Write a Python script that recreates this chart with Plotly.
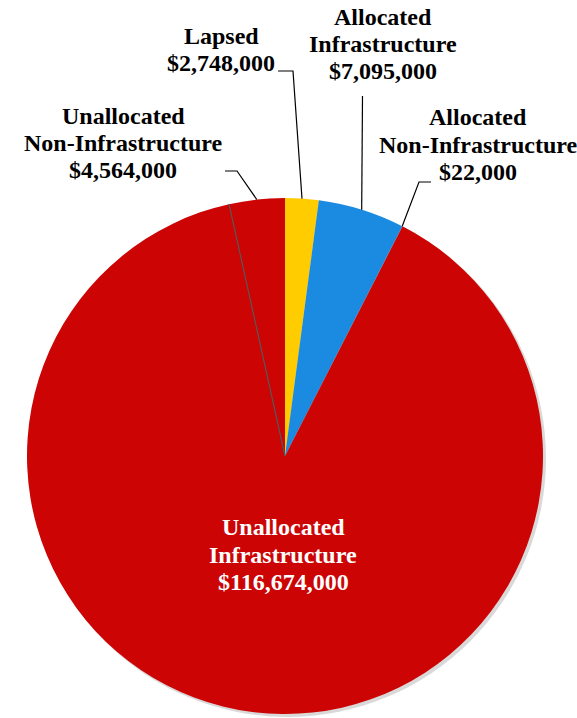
import math
import plotly.graph_objects as go

# ---- data ----
categories = ["Lapsed", "Allocated Infrastructure", "Allocated Non-Infrastructure",
              "Unallocated Infrastructure", "Unallocated Non-Infrastructure"]
label_lines = [["Lapsed"], ["Allocated", "Infrastructure"], ["Allocated", "Non-Infrastructure"],
               ["Unallocated", "Infrastructure"], ["Unallocated", "Non-Infrastructure"]]
values = [2748000, 7095000, 22000, 116674000, 4564000]
colors = ["#FFCC00", "#1A8BE0", "#1A8BE0", "#CC0404", "#CC0404"]

W, H = 577, 718
CX, CY, R = 285, 456, 258

fig = go.Figure()

# drop shadow behind the pie
fig.add_shape(type="circle", xref="x", yref="y", x0=CX - R + 2, x1=CX + R + 3,
              y0=CY - R + 2, y1=CY + R + 3, fillcolor="rgba(0,0,0,0.15)",
              line=dict(width=0), layer="below")

fig.add_trace(go.Pie(
    labels=categories, values=values, sort=False, direction="clockwise", rotation=0,
    marker=dict(colors=colors, line=dict(width=0)),
    textinfo="none", hoverinfo="label+value", showlegend=False,
    domain=dict(x=[(CX - R) / W, (CX + R) / W], y=[1 - (CY + R) / H, 1 - (CY - R) / H]),
))

# invisible pixel-space axes for annotations / leader lines
fig.add_trace(go.Scatter(x=[0, W], y=[0, H], mode="markers", marker=dict(opacity=0),
                         hoverinfo="skip", showlegend=False))

total = sum(values)
starts, cum = [], 0
for v in values:
    starts.append(cum / total * 360)
    cum += v

def edge(angle_deg, r=R):
    a = math.radians(angle_deg)
    return CX + r * math.sin(a), CY - r * math.cos(a)

# dark divider between the two red slices
bx, by = edge(starts[4])
fig.add_shape(type="line", xref="x", yref="y", x0=CX, y0=CY, x1=bx, y1=by,
              line=dict(color="#555555", width=1.2))

def money(v):
    return "$" + f"{v:,}"

FONT = "Liberation Serif"
LINE = 27.3
label_pos = {0: (221, 49.5), 1: (383, 44), 2: (478, 144.5), 3: (283, 554.5), 4: (123, 143)}
for i, (x, y) in label_pos.items():
    lines = label_lines[i] + [money(values[i])]
    n = len(lines)
    for k, ln in enumerate(lines):
        fig.add_annotation(x=x, y=y + (k - (n - 1) / 2) * LINE, xref="x", yref="y",
                           text="<b>" + ln + "</b>", showarrow=False,
                           font=dict(family=FONT, size=24, color="white" if i == 3 else "black"),
                           xanchor="center", yanchor="middle", align="center")

# leader lines: elbow points are layout; pie-edge points come from the data angles
mid = [starts[i] + values[i] / total * 180 for i in range(len(values))]
leaders = {
    0: [(278, 71), (293, 71)],
    1: [(362.5, 96)],
    2: [(431, 182), (419, 182)],
    4: [(225, 171), (237, 171)],
}
for i, pts in leaders.items():
    if i == 2:
        ex, ey = edge(starts[2])
    else:
        ex, ey = edge(mid[i])
    allp = pts + [(ex, ey)]
    path = "M " + " L ".join(f"{px:.1f},{py:.1f}" for px, py in allp)
    fig.add_shape(type="path", xref="x", yref="y", path=path,
                  line=dict(color="black", width=1.2))

fig.update_layout(
    width=W, height=H, margin=dict(l=0, r=0, t=0, b=0),
    paper_bgcolor="white", plot_bgcolor="rgba(0,0,0,0)",
    xaxis=dict(range=[0, W], visible=False, fixedrange=True),
    yaxis=dict(range=[H, 0], visible=False, fixedrange=True),
)
fig.write_html("out.html", config={"displayModeBar": False},
               post_script="document.body.style.margin='0';document.body.style.overflow='hidden';")
